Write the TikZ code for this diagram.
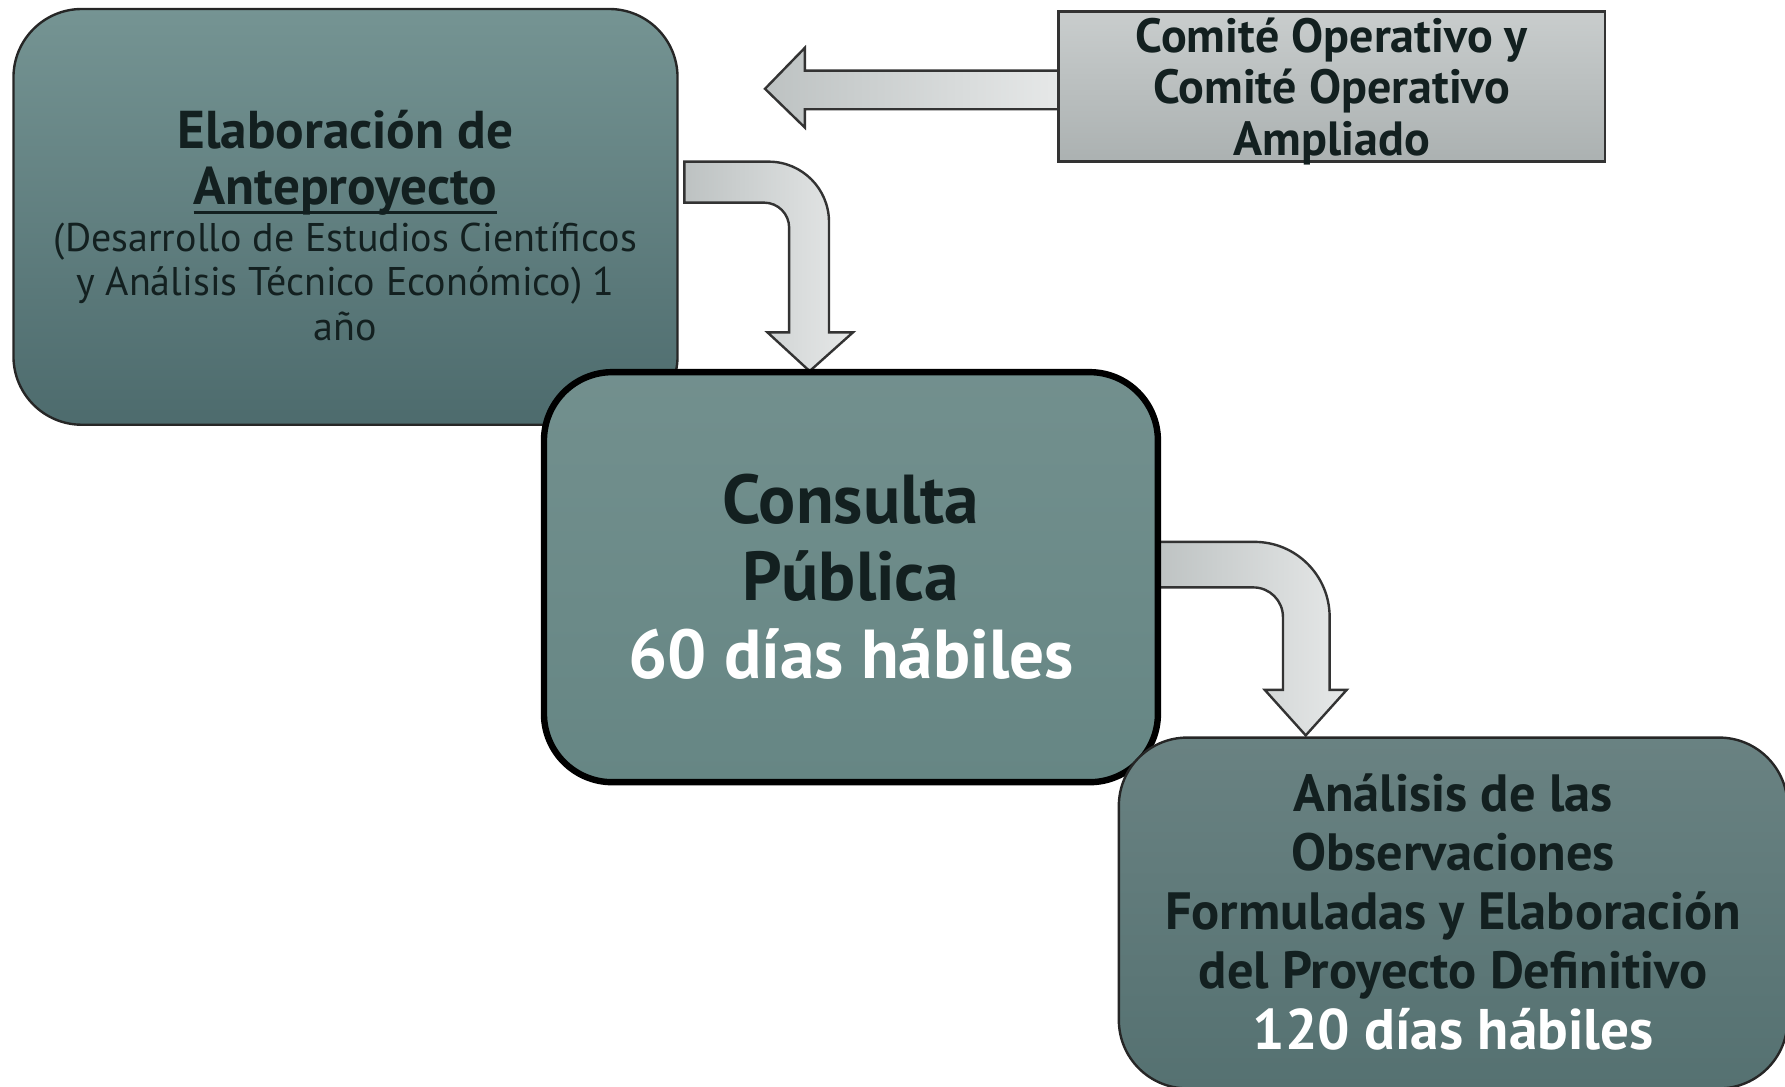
\documentclass[tikz,border=0pt]{standalone}
\usepackage{fontspec}
\setmainfont{PT Sans}
\usetikzlibrary{calc}

\definecolor{tealtop}{HTML}{759493}
\definecolor{tealbot}{HTML}{4D6B6D}
\definecolor{tealmid}{HTML}{668684}
\definecolor{tealdeep}{HTML}{557171}
\definecolor{inkdark}{HTML}{132020}
\definecolor{arrowdark}{HTML}{BDC2C2}
\definecolor{arrowlight}{HTML}{E6E8E8}
\definecolor{comitetop}{HTML}{C9CDCD}
\definecolor{comitebot}{HTML}{ABB1B1}

% heavier underline than \underline gives
\newcommand{\thickunder}[1]{%
  \setbox0\hbox{#1}\rlap{\rule[-2.6pt]{\wd0}{0.9pt}}\box0}

\begin{document}
\begin{tikzpicture}[
  x=0.01cm, y=0.01cm,
  stage/.style={rounded corners=0.6cm, draw=black!85, line width=0.6pt,
                align=center, text=inkdark, inner sep=0pt},
  stage-elab/.style={stage, top color=tealtop, bottom color=tealbot,
                     minimum width=5.83cm, minimum height=3.65cm},
  stage-consulta/.style={stage, top color=tealmid!92!white, bottom color=tealmid,
                         line width=1.6pt, draw=black,
                         minimum width=5.39cm, minimum height=3.60cm},
  stage-analisis/.style={stage, top color=tealdeep!88!white, bottom color=tealdeep,
                         minimum width=5.87cm, minimum height=3.08cm},
  comite-box/.style={draw=black!80, line width=0.6pt, align=center,
                     top color=comitetop, bottom color=comitebot, text=inkdark,
                     minimum width=4.80cm, minimum height=1.32cm, inner sep=0pt,
                     font=\fontsize{12}{12.8}\selectfont\bfseries},
  bigarrow/.style={draw=black!80, line width=0.6pt,
                   left color=arrowdark, right color=arrowlight}
]
  \useasboundingbox (0,0) rectangle (1568,-954);
  \clip (0,0) rectangle (1568,-954);

  % ===========================================================
  % First stage and the incoming arrow from the committee
  % ===========================================================
  \node[stage-elab, font=\fontsize{10}{11}\selectfont, text depth=0cm]
    (elab) at (303.5,-190.5) {%
    {\fontsize{13.3}{14}\selectfont\bfseries\rule{0pt}{13.7pt}Elaboración de}\\[3pt]
    {\fontsize{13.3}{14}\selectfont\bfseries \thickunder{Anteproyecto}}\\[0.8pt]
    (Desarrollo de Estudios Científicos\\
    y Análisis Técnico Económico) 1\\[0.3pt]
    año};

  \coordinate (comite-in) at (930,-62);
  \draw[bigarrow] (comite-in) -- ++(-223,0) -- ++(0,20) -- ++(-35,-36)
    -- ++(35,-34) -- ++(0,16) -- ++(223,0) -- cycle;

  \node[comite-box, text depth=-0.05cm] (comite) at (1170,-76) {%
    Comité Operativo y\\ Comité Operativo\\ Ampliado};

  % bent arrow: elab -> consulta
  \coordinate (elab-out) at ($(elab.east |- 0,-142)+(5,0)$);
  \draw[bigarrow] (elab-out) -- ++(74,0)
    arc[start angle=90, end angle=0, radius=53] -- ++(0,-97)
    -- ++(21,0) -- ++(-38,-34) -- ++(-37,34) -- ++(19,0) -- ++(0,92)
    arc[start angle=0, end angle=90, radius=22] -- ++(-70,0) -- cycle;

  % ===========================================================
  % Public consultation
  % ===========================================================
  \coordinate (consulta-out) at (1013,-476);
  \draw[bigarrow] (consulta-out) -- ++(89,0)
    arc[start angle=90, end angle=0, radius=66] -- ++(0,-64)
    -- ++(15,0) -- ++(-36,-40) -- ++(-36,40) -- ++(16,0) -- ++(0,64)
    arc[start angle=0, end angle=90, radius=26] -- ++(-88,0) -- cycle;

  \node[stage-consulta, font=\fontsize{17.3}{19.4}\selectfont\bfseries,
        text depth=0.02cm] (consulta) at (747.5,-507) {%
    Consulta\\ Pública\\ \textcolor{white}{60 días hábiles}};

  % ===========================================================
  % Final stage (runs off the page edge)
  % ===========================================================
  \node[stage-analisis, font=\fontsize{13.1}{14.7}\selectfont\bfseries,
        text depth=0.02cm] (analisis) at (1276.5,-802) {%
    Análisis de las\\ Observaciones\\ Formuladas y Elaboración\\
    del Proyecto Definitivo\\[0.6pt]
    {\color{white}\fontsize{14.3}{14.7}\selectfont 120 días hábiles}};

\end{tikzpicture}
\end{document}
